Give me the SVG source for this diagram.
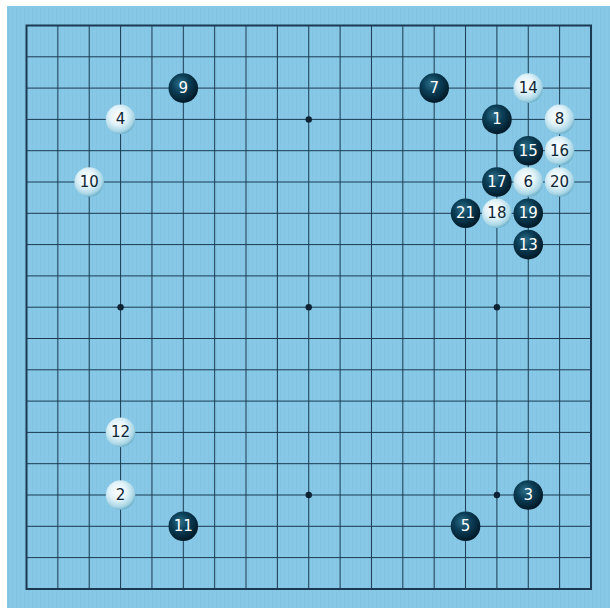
<svg xmlns="http://www.w3.org/2000/svg" width="610" height="608" viewBox="0 0 610 608">
<defs>
<radialGradient id="gb" cx="0.4" cy="0.35" r="0.65">
<stop offset="0" stop-color="#2f6f88"/>
<stop offset="0.45" stop-color="#0b3f58"/>
<stop offset="1" stop-color="#021a28"/>
</radialGradient>
<radialGradient id="gw" cx="0.42" cy="0.38" r="0.66">
<stop offset="0" stop-color="#ffffff"/>
<stop offset="0.45" stop-color="#e2f3f9"/>
<stop offset="0.8" stop-color="#a9d6e6"/>
<stop offset="1" stop-color="#5fa7c2"/>
</radialGradient>
<pattern id="tex" width="4" height="8" patternUnits="userSpaceOnUse">
<rect width="4" height="8" fill="#87c8e6"/>
<rect width="1" height="8" fill="#7fc1e0" opacity="0.6"/>
</pattern>
</defs>
<style>
.grid{stroke:#1b3a52;stroke-width:1;fill:none}
.edge{stroke:#1b3a52;stroke-width:2;fill:none}
.star{fill:#0d2233}
.sb{fill:url(#gb)}
.sw{fill:url(#gw)}
.tb{fill:#ffffff;font-family:"DejaVu Sans","Noto Sans",sans-serif;font-size:15px;text-anchor:middle;dominant-baseline:central}
.tw{fill:#0f2535;font-family:"DejaVu Sans","Noto Sans",sans-serif;font-size:15px;text-anchor:middle;dominant-baseline:central}
</style>
<rect width="610" height="608" fill="#ffffff"/>
<rect x="7" y="6" width="603" height="602" fill="url(#tex)"/>
<g id="board">
<path class="grid" d="M26.5 56.8H591M26.5 88.1H591M26.5 119.4H591M26.5 150.7H591M26.5 182H591M26.5 213.3H591M26.5 244.6H591M26.5 275.9H591M26.5 307.2H591M26.5 338.5H591M26.5 369.8H591M26.5 401.1H591M26.5 432.4H591M26.5 463.7H591M26.5 495H591M26.5 526.3H591M26.5 557.6H591
M57.86 25.5V589M89.22 25.5V589M120.58 25.5V589M151.94 25.5V589M183.3 25.5V589M214.66 25.5V589M246.02 25.5V589M277.38 25.5V589M308.74 25.5V589M340.1 25.5V589M371.46 25.5V589M402.82 25.5V589M434.18 25.5V589M465.54 25.5V589M496.9 25.5V589M528.26 25.5V589M559.62 25.5V589"/>
<rect class="edge" x="26.5" y="25.5" width="564.5" height="563.5"/>
<circle class="star" cx="308.74" cy="119.4" r="3.2"/>
<circle class="star" cx="120.58" cy="307.2" r="3.2"/>
<circle class="star" cx="308.74" cy="307.2" r="3.2"/>
<circle class="star" cx="496.9" cy="307.2" r="3.2"/>
<circle class="star" cx="308.74" cy="495" r="3.2"/>
<circle class="star" cx="496.9" cy="495" r="3.2"/>
</g>
<g id="s1" transform="translate(496.9,119.4)"><circle class="sb" r="14.8"/><text class="tb">1</text></g>
<g id="s2" transform="translate(120.58,495)"><circle class="sw" r="14.8"/><text class="tw">2</text></g>
<g id="s3" transform="translate(528.26,495)"><circle class="sb" r="14.8"/><text class="tb">3</text></g>
<g id="s4" transform="translate(120.58,119.4)"><circle class="sw" r="14.8"/><text class="tw">4</text></g>
<g id="s5" transform="translate(465.54,526.3)"><circle class="sb" r="14.8"/><text class="tb">5</text></g>
<g id="s6" transform="translate(528.26,182)"><circle class="sw" r="14.8"/><text class="tw">6</text></g>
<g id="s7" transform="translate(434.18,88.1)"><circle class="sb" r="14.8"/><text class="tb">7</text></g>
<g id="s8" transform="translate(559.62,119.4)"><circle class="sw" r="14.8"/><text class="tw">8</text></g>
<g id="s9" transform="translate(183.3,88.1)"><circle class="sb" r="14.8"/><text class="tb">9</text></g>
<g id="s10" transform="translate(89.22,182)"><circle class="sw" r="14.8"/><text class="tw">10</text></g>
<g id="s11" transform="translate(183.3,526.3)"><circle class="sb" r="14.8"/><text class="tb">11</text></g>
<g id="s12" transform="translate(120.58,432.4)"><circle class="sw" r="14.8"/><text class="tw">12</text></g>
<g id="s13" transform="translate(528.26,244.6)"><circle class="sb" r="14.8"/><text class="tb">13</text></g>
<g id="s14" transform="translate(528.26,88.1)"><circle class="sw" r="14.8"/><text class="tw">14</text></g>
<g id="s15" transform="translate(528.26,150.7)"><circle class="sb" r="14.8"/><text class="tb">15</text></g>
<g id="s16" transform="translate(559.62,150.7)"><circle class="sw" r="14.8"/><text class="tw">16</text></g>
<g id="s17" transform="translate(496.9,182)"><circle class="sb" r="14.8"/><text class="tb">17</text></g>
<g id="s18" transform="translate(496.9,213.3)"><circle class="sw" r="14.8"/><text class="tw">18</text></g>
<g id="s19" transform="translate(528.26,213.3)"><circle class="sb" r="14.8"/><text class="tb">19</text></g>
<g id="s20" transform="translate(559.62,182)"><circle class="sw" r="14.8"/><text class="tw">20</text></g>
<g id="s21" transform="translate(465.54,213.3)"><circle class="sb" r="14.8"/><text class="tb">21</text></g>
</svg>
